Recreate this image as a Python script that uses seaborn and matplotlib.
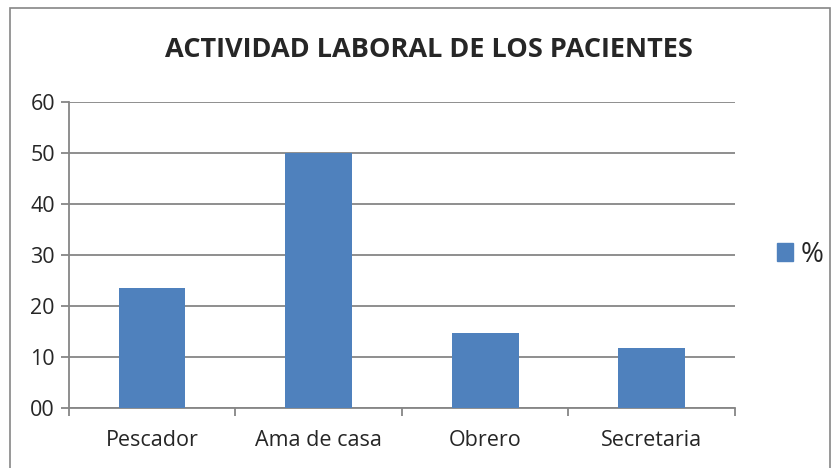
import numpy as np
import pandas as pd
import seaborn as sns
import matplotlib.pyplot as plt
from matplotlib.patches import Rectangle, Patch

categorias = ["Pescador", "Ama de casa", "Obrero", "Secretaria"]
porcentaje = [23.5, 50.0, 14.7, 11.8]
yticks = [0, 10, 20, 30, 40, 50, 60]
ytick_labels = ["00", "10", "20", "30", "40", "50", "60"]

df = pd.DataFrame({"actividad": categorias, "pct": porcentaje})

sns.set_style("white")
plt.rcParams["font.family"] = ["Open Sans", "DejaVu Sans"]

fig = plt.figure(figsize=(8.4, 4.68), dpi=100)
ax = fig.add_axes([0.082, 0.128, 0.793, 0.654])

azul = "#4f81bd"
sns.barplot(data=df, x="actividad", y="pct", color=azul, width=0.4,
            saturation=1, linewidth=0, ax=ax, zorder=3)

ax.set_ylim(0, 60)
ax.set_xlim(-0.5, len(categorias) - 0.5)
ax.set_yticks(yticks)
ax.set_yticklabels(ytick_labels)
ax.yaxis.grid(True, color="#868686", linewidth=1.3, zorder=0)
ax.set_axisbelow(True)
ax.set_xlabel("")
ax.set_ylabel("")

for s in ["top", "right"]:
    ax.spines[s].set_visible(False)
for s in ["left", "bottom"]:
    ax.spines[s].set_color("#868686")
    ax.spines[s].set_linewidth(1.3)

# x ticks at category boundaries
ax.set_xticks(np.arange(len(categorias)))
ax.set_xticks(np.arange(-0.5, len(categorias)), minor=True)
ax.tick_params(axis="x", which="major", bottom=True, length=0, labelsize=15.5, pad=16)
ax.tick_params(axis="x", which="minor", bottom=True, length=6, color="#868686",
               width=1.3, direction="out")
ax.tick_params(axis="y", left=True, length=6, color="#868686", width=1.3,
               labelsize=15.5, direction="out", pad=4)

fig.text(0.511, 0.893, "ACTIVIDAD LABORAL DE LOS PACIENTES", fontsize=19.5,
         fontweight="bold", ha="center", va="center")

ax.legend(handles=[Patch(color=azul, label="%")], loc="center left",
          bbox_to_anchor=(1.025, 0.5), frameon=False, fontsize=20,
          handlelength=0.6, handleheight=0.6, handletextpad=0.25)

fig.patches.append(Rectangle((0.012, -0.01), 0.976, 0.993, transform=fig.transFigure,
                             fill=False, edgecolor="#868686", linewidth=1.2))

fig.savefig("out.png", dpi=100)
